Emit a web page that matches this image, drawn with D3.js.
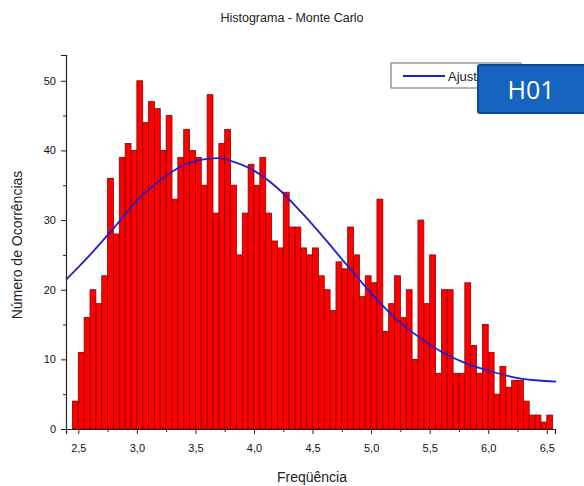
<!DOCTYPE html>
<html>
<head>
<meta charset="utf-8">
<script src="https://cdn.jsdelivr.net/npm/d3@7"></script>
<style>
  body { margin: 0; background: #fff; }
  text { font-family: "Liberation Sans", Arial, sans-serif; }
</style>
</head>
<body>
<svg width="584" height="486"></svg>
<script>
// histogram counts, one per 0.05 bin starting at 2.45
var binStart = 2.45, binWidth = 0.05;
var counts = [4, 11, 16, 20, 18, 22, 36, 28, 39, 41,
	40, 50, 44, 47, 46, 40, 45, 33, 39, 43,
	40, 39, 35, 48, 31, 41, 43, 35, 25, 31,
	38, 35, 39, 31, 27, 26, 34, 29, 29, 26,
	25, 26, 22, 20, 17, 24, 23, 29, 25, 19,
	22, 21, 33, 14, 18, 22, 16, 20, 10, 30,
	18, 25, 8, 20, 20, 8, 8, 21, 12, 8,
	15, 11, 5, 9, 6, 7, 7, 4, 2, 2,
	1, 2];

// fitted curve ("Ajuste")
var fitX = [2.4, 2.6, 2.8, 3.0, 3.2, 3.4, 3.6, 3.7, 3.8, 4.0, 4.2, 4.4, 4.6, 4.8, 5.0, 5.2, 5.4, 5.6, 5.8, 6.0, 6.2, 6.4, 6.58];
var fitY = [21.5, 25.0, 28.8, 32.8, 35.7, 37.9, 38.8, 38.9, 38.5, 37.1, 34.6, 31.2, 27.4, 23.4, 19.5, 16.0, 13.3, 11.1, 9.5, 8.4, 7.5, 7.0, 6.8];

var xTicks = [2.5, 3.0, 3.5, 4.0, 4.5, 5.0, 5.5, 6.0, 6.5];
var yTicks = [0, 10, 20, 30, 40, 50];

var svg = d3.select("svg");

var x = d3.scaleLinear().domain([2.395, 6.57]).range([66, 555]);
var y = d3.scaleLinear().domain([0, 53.7]).range([429, 55]);

var fmt = function(d) { return d3.format(".1f")(d).replace(".", ","); };

// bars
svg.append("g").selectAll("rect")
	.data(counts).enter().append("rect")
	.attr("x", function(d, i) { return x(binStart + i * binWidth); })
	.attr("width", function(d, i) { return x(binStart + (i + 1) * binWidth) - x(binStart + i * binWidth); })
	.attr("y", function(d) { return y(d); })
	.attr("height", function(d) { return y(0) - y(d); })
	.attr("fill", "#ff0000")
	.attr("stroke", "#8a0000")
	.attr("stroke-width", 0.8);

// fit line
var line = d3.line()
	.x(function(d, i) { return x(fitX[i]); })
	.y(function(d) { return y(d); })
	.curve(d3.curveMonotoneX);
svg.append("path")
	.datum(fitY)
	.attr("d", line)
	.attr("fill", "none")
	.attr("stroke", "#2020d0")
	.attr("stroke-width", 1.8);

// x axis
svg.append("g")
	.attr("transform", "translate(0," + y(0) + ")")
	.call(d3.axisBottom(x).tickValues(xTicks).tickFormat(fmt).tickSize(5).tickPadding(10));
svg.append("g")
	.attr("transform", "translate(0," + y(0) + ")")
	.call(d3.axisBottom(x).tickValues(d3.range(2.75, 6.5, 0.5)).tickFormat("").tickSize(3))
	.select(".domain").remove();

// y axis
svg.append("g")
	.attr("transform", "translate(" + x.range()[0] + ",0)")
	.call(d3.axisLeft(y).tickValues(yTicks).tickSize(5).tickPadding(5));
svg.append("g")
	.attr("transform", "translate(" + x.range()[0] + ",0)")
	.call(d3.axisLeft(y).tickValues([5, 15, 25, 35, 45]).tickFormat("").tickSize(3))
	.select(".domain").remove();

svg.selectAll(".domain").attr("stroke", "#222").attr("stroke-width", 1.2);
svg.selectAll(".tick line").attr("stroke", "#222");
svg.selectAll(".tick text").attr("font-size", 11).attr("fill", "#111")
	.style("font-family", "'Liberation Sans', Arial, sans-serif");

// titles
svg.append("text")
	.attr("x", 292).attr("y", 22)
	.attr("text-anchor", "middle")
	.attr("font-size", 12.5)
	.attr("fill", "#222")
	.text("Histograma - Monte Carlo");
svg.append("text")
	.attr("x", 312).attr("y", 482)
	.attr("text-anchor", "middle")
	.attr("font-size", 14)
	.attr("fill", "#222")
	.text("Freqüência");
svg.append("text")
	.attr("transform", "translate(22,245) rotate(-90)")
	.attr("text-anchor", "middle")
	.attr("font-size", 14)
	.attr("fill", "#222")
	.text("Número de Ocorrências");

// legend
var leg = svg.append("g");
leg.append("rect")
	.attr("x", 391).attr("y", 63).attr("width", 130).attr("height", 25)
	.attr("fill", "#fff").attr("stroke", "#666").attr("stroke-width", 1);
leg.append("line")
	.attr("x1", 403).attr("x2", 445).attr("y1", 76).attr("y2", 76)
	.attr("stroke", "#2020d0").attr("stroke-width", 1.8);
leg.append("text")
	.attr("x", 448).attr("y", 81)
	.attr("font-size", 13)
	.attr("fill", "#222")
	.text("Ajuste");

// H01 label
var tag = svg.append("g");
tag.append("rect")
	.attr("x", 478).attr("y", 65).attr("width", 110).attr("height", 48)
	.attr("rx", 2)
	.attr("fill", "#1565c0").attr("stroke", "#0d4a94").attr("stroke-width", 2);
tag.append("text")
	.attr("x", 531).attr("y", 99)
	.attr("text-anchor", "middle")
	.attr("font-size", 25)
	.attr("fill", "#fff")
	.style("font-family", "'Open Sans', 'Liberation Sans', sans-serif")
	.text("H01");
</script>
</body>
</html>
